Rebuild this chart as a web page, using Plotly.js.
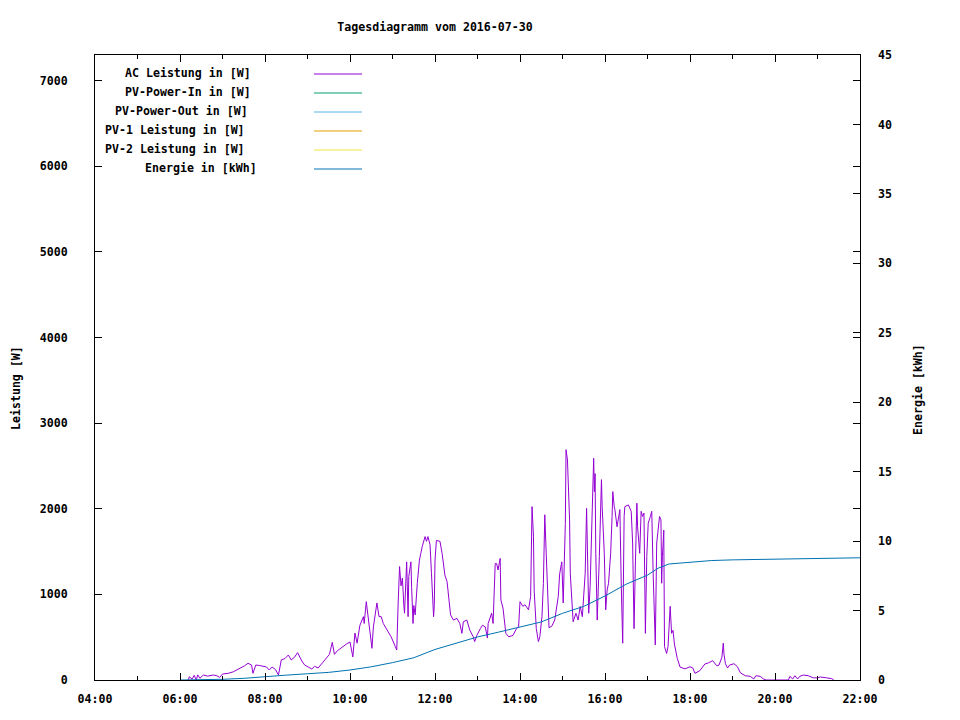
<!DOCTYPE html>
<html>
<head>
<meta charset="utf-8">
<script src="https://cdn.plot.ly/plotly-3.0.1.min.js"></script>
<style>html,body{margin:0;padding:0;background:#fff;}#chart{width:960px;height:720px;}</style>
</head>
<body>
<div id="chart"></div>
<script>
const DAY = '2016-07-30';
const chartTitle = 'Tagesdiagramm vom 2016-07-30';
const yTitle = 'Leistung [W]';
const y2Title = 'Energie [kWh]';
const legendLabels = ['AC Leistung in [W]','PV-Power-In in [W]','PV-Power-Out in [W]','PV-1 Leistung in [W]','PV-2 Leistung in [W]','Energie in [kWh]'];

const acTimes = ['06:12','06:13','06:17','06:20','06:23','06:25','06:28','06:33','06:39','06:47','06:52','06:56',
'07:00','07:08','07:15','07:20','07:27','07:31','07:36','07:41','07:43','07:47','07:52','07:57',
'08:02','08:06','08:10','08:15','08:19','08:23','08:28','08:33','08:37','08:42','08:46','08:52','08:56',
'09:01','09:06','09:10','09:15','09:21','09:27','09:31','09:35','09:38','09:42','09:46','09:50','09:55',
'10:00','10:04','10:07','10:10','10:14','10:19','10:20','10:23','10:26','10:31','10:33','10:38','10:41','10:44','10:47','10:54','10:58',
'11:04','11:06','11:08','11:10','11:12','11:14','11:16','11:17','11:20','11:22','11:23','11:26','11:27','11:29','11:30','11:32','11:35','11:38','11:40','11:42','11:46','11:48','11:50','11:53','11:55','11:58','11:59',
'12:00','12:02','12:07','12:10','12:12','12:14','12:17','12:19','12:22','12:26','12:31','12:35','12:38','12:40','12:45','12:49','12:54','12:56','12:59',
'13:04','13:07','13:11','13:14','13:15','13:20','13:22','13:25','13:27','13:29','13:32','13:33','13:36','13:40','13:44','13:50','13:55','13:58',
'14:00','14:04','14:07','14:12','14:15','14:16','14:17','14:19','14:20','14:23','14:26','14:28','14:31','14:33','14:35','14:37','14:40','14:41','14:45','14:49','14:54','14:56','14:59',
'15:00','15:01','15:04','15:05','15:07','15:10','15:11','15:13','15:15','15:19','15:22','15:25','15:28','15:32','15:34','15:35','15:37','15:39','15:41','15:44','15:45','15:46','15:47','15:49','15:52','15:54','15:55','15:56','15:59',
'16:01','16:03','16:05','16:08','16:10','16:11','16:13','16:14','16:17','16:19','16:21','16:23','16:25','16:27','16:28','16:33','16:37','16:39','16:41','16:43','16:45','16:46','16:49','16:51','16:53','16:55','16:57','16:59',
'17:01','17:04','17:06','17:08','17:11','17:13','17:17','17:19','17:20','17:21','17:23','17:24','17:27','17:29','17:32','17:34','17:36','17:38','17:42','17:46','17:53',
'18:00','18:04','18:07','18:14','18:21','18:26','18:32','18:38','18:41','18:45','18:47','18:48','18:50','18:53','18:56',
'19:02','19:07','19:11','19:18','19:25','19:30','19:33','19:39','19:44','19:48',
'20:19','20:21','20:25','20:28','20:32','20:35','20:40','20:47','20:54',
'21:00','21:04','21:13','21:20','21:23'];

const acPower = [0,39,10,55,0,60,20,58,45,58,50,30,
70,78,95,117,140,165,195,175,78,175,170,163,
152,117,152,120,58,234,250,292,234,270,320,222,175,
152,128,160,140,200,265,300,440,300,340,370,390,420,
444,270,548,430,640,740,660,915,720,370,620,900,740,740,660,550,505,
390,350,900,1325,1100,1190,870,780,1380,740,1210,1380,1080,660,870,760,1130,1400,1480,1560,1675,1620,1675,1580,1247,740,870,
1400,1630,1620,1480,1360,1225,1150,985,760,700,720,660,545,680,700,585,505,448,520,
600,640,620,490,660,780,660,1360,1360,1285,1420,935,840,545,505,520,600,620,
915,860,880,820,975,1520,2025,1680,1050,600,448,505,740,1130,1930,1480,860,610,630,700,975,1240,1380,
1090,900,1830,2690,2570,1870,1240,975,680,780,700,860,740,1240,2005,1600,780,1090,1600,2590,2200,2410,1480,700,1440,2140,2340,2025,1480,
820,1050,1130,1480,1910,2200,2025,1990,1790,1870,1990,1090,430,1910,2025,2045,1970,1600,600,1400,2065,1790,1480,1970,1910,1950,545,1440,
1830,1910,1970,1240,410,1600,1910,1870,1130,1440,1750,390,310,390,860,545,580,420,253,150,130,
155,140,78,110,187,200,225,165,175,265,430,300,190,140,175,
190,155,85,50,43,12,50,43,10,0,
0,43,12,50,12,43,58,50,25,
25,35,25,16,0];

const eTimes = ['06:00','06:30','07:00','07:30','08:00','08:30','09:00','09:30','10:00','10:30','11:00','11:30',
'12:00','12:30','13:00','13:30','14:00','14:30','15:00','15:30','16:00','16:30','17:00','17:15','17:30',
'18:00','18:30','19:00','20:00','21:00','22:00'];
const energy = [0,0.01,0.05,0.12,0.25,0.35,0.45,0.55,0.72,0.95,1.25,1.6,
2.2,2.65,3.1,3.45,3.8,4.18,4.8,5.3,6.05,6.9,7.55,8.05,8.35,
8.5,8.6,8.65,8.7,8.75,8.8];

const COLORS = ['#9400d3','#009e73','#56b4e9','#e69f00','#f0e442','#0072b2'];
const FONT = {family:'"DejaVu Sans Mono", monospace', size:11.6, color:'#000', weight:'bold'};

// plot area in pixels
const L = 95, R = 860, T = 55, B = 680, W = 960, H = 720;
const px2x = p => (p - L) / (R - L);
const px2y = p => (B - p) / (B - T);

const traces = [
  {x: acTimes.map(t => DAY + ' ' + t), y: acPower, type:'scatter', mode:'lines',
   name: legendLabels[0], line:{color:COLORS[0], width:1}, yaxis:'y', showlegend:false},
  {x: eTimes.map(t => DAY + ' ' + t), y: energy, type:'scatter', mode:'lines',
   name: legendLabels[5], line:{color:COLORS[5], width:1}, yaxis:'y2', showlegend:false}
];

// gnuplot-style key: text then line sample
const keyLeft = [123,123,113,103,103,143];
const keyY = [73,92,111,130,149,168];
const annotations = legendLabels.map((lab,i) => ({
  text: lab, xref:'paper', yref:'paper', x: px2x(keyLeft[i]), y: px2y(keyY[i]),
  xanchor:'left', yanchor:'middle', showarrow:false, font: FONT
}));
annotations.push({text: yTitle, xref:'paper', yref:'paper', x: px2x(16), y: px2y(388),
  xanchor:'center', yanchor:'middle', textangle:-90, showarrow:false, font: FONT});
annotations.push({text: y2Title, xref:'paper', yref:'paper', x: px2x(918), y: px2y(390),
  xanchor:'center', yanchor:'middle', textangle:-90, showarrow:false, font: FONT});
const shapes = legendLabels.map((lab,i) => ({
  type:'line', xref:'paper', yref:'paper', x0: px2x(314), x1: px2x(362),
  y0: px2y(keyY[i]+1), y1: px2y(keyY[i]+1), line:{color:COLORS[i], width:1}
}));

const layout = {
  width: W, height: H,
  margin: {l: L, r: W - R, t: T, b: H - B, pad: 0},
  paper_bgcolor:'#fff', plot_bgcolor:'#fff',
  showlegend:false,
  font: FONT,
  title: {text: chartTitle, font: FONT, x: 435/W, xref:'container', xanchor:'center', y: 1 - 27/H, yref:'container', yanchor:'middle'},
  xaxis: {
    type:'date', range:[DAY + ' 04:00', DAY + ' 22:00'], dtick: 7200000, tick0: DAY + ' 00:00',
    tickformat:'%H:%M', ticks:'inside', ticklen:7, tickwidth:1, tickcolor:'#000',
    minor:{dtick:3600000, ticks:'inside', ticklen:4, tickcolor:'#000'},
    showline:true, linecolor:'#000', linewidth:1, mirror:'ticks',
    showgrid:false, zeroline:false, tickfont: FONT, ticklabelstandoff: 8
  },
  yaxis: {
    range:[0, 7300], dtick:1000, tick0:0, ticks:'inside', ticklen:7, tickwidth:1, tickcolor:'#000',
    showline:true, linecolor:'#000', linewidth:1, mirror:'ticks',
    showgrid:false, zeroline:false, tickfont: FONT, ticklabelstandoff: 24
  },
  yaxis2: {
    overlaying:'y', side:'right', range:[0,45], dtick:5, tick0:0,
    ticks:'inside', ticklen:7, tickwidth:1, tickcolor:'#000',
    showline:false, showgrid:false, zeroline:false, tickfont: FONT, ticklabelstandoff: 17
  },
  annotations, shapes
};

Plotly.newPlot('chart', traces, layout, {displayModeBar:false, staticPlot:true});
</script>
</body>
</html>
